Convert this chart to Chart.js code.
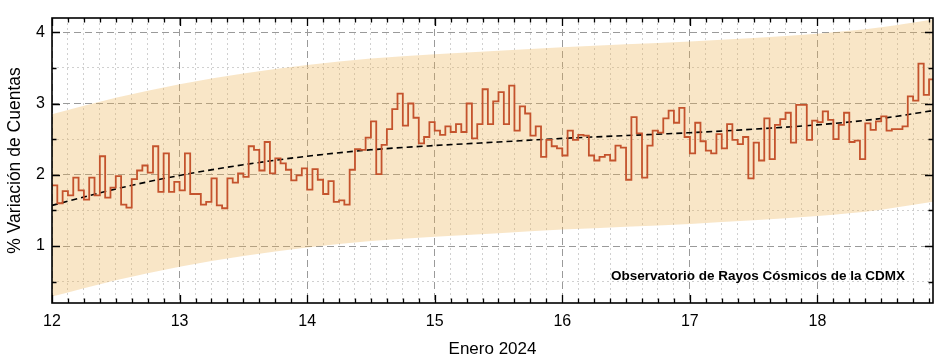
<!DOCTYPE html>
<html>
<head>
<meta charset="utf-8">
<script src="https://cdn.jsdelivr.net/npm/chart.js@4.4.1/dist/chart.umd.min.js"></script>
<style>
html,body{margin:0;padding:0;background:#ffffff;}
#wrap{width:941px;height:362px;position:relative;}
</style>
</head>
<body>
<div id="wrap"><canvas id="c" width="941" height="362"></canvas></div>
<script>
// ---------------- data ----------------
const startDay = 12;            // first hourly value: 12 Jan 2024, 00:00
const hoursPerDay = 24;
// hourly % variation of counts, one value per hour
const countVariation = [
  // day 12
  1.85,1.60,1.77,1.71,1.96,1.78,1.65,1.96,1.71,2.26,1.68,1.82,1.98,1.58,1.54,1.94,2.06,2.13,2.03,2.40,1.76,2.30,1.76,1.90,
  // day 13
  1.78,2.30,1.73,1.73,1.58,1.62,1.95,1.57,1.53,1.95,1.89,2.02,1.97,2.40,2.35,2.06,2.46,2.02,2.23,2.16,2.07,1.92,1.99,2.09,
  // day 14
  1.79,2.08,1.93,1.73,1.91,1.62,1.64,1.58,2.07,2.36,2.35,2.52,2.75,2.01,2.42,2.64,2.92,3.14,2.69,3.00,2.80,2.44,2.53,2.74,
  // day 15
  2.62,2.56,2.68,2.60,2.71,2.60,3.00,2.51,2.71,3.20,2.71,3.03,3.16,2.71,3.25,2.62,2.96,2.86,2.55,2.68,2.25,2.49,2.40,2.37,
  // day 16
  2.27,2.62,2.49,2.56,2.55,2.27,2.20,2.25,2.28,2.20,2.41,2.38,1.93,2.81,2.58,1.96,2.41,2.62,2.59,2.79,2.90,2.73,2.94,2.53,
  // day 17
  2.30,2.73,2.47,2.34,2.30,2.57,2.37,2.71,2.49,2.43,2.53,1.95,2.45,2.20,2.79,2.22,2.70,2.78,2.87,2.45,2.98,2.98,2.49,2.76,
  // day 18
  2.74,2.89,2.77,2.50,2.70,2.87,2.46,2.48,2.22,2.72,2.63,2.75,2.82,2.62,2.64,2.64,2.68,3.10,3.04,3.56,3.12,3.34
];

// trend curve and shaded band, sampled every half day
const bandDays  = [12, 12.5, 13, 13.5, 14, 14.5, 15, 15.5, 16, 16.5, 17, 17.5, 18, 18.5, 18.906];
const trendLine = [1.57,1.80,1.99,2.14,2.26,2.35,2.41,2.46,2.51,2.55,2.59,2.64,2.70,2.79,2.90];
const bandUpper = [2.85,3.08,3.27,3.42,3.54,3.63,3.69,3.74,3.79,3.83,3.87,3.92,3.98,4.07,4.18];
const bandLower = [0.29,0.52,0.71,0.86,0.98,1.07,1.13,1.18,1.23,1.27,1.31,1.36,1.42,1.51,1.62];

// axes
const xMin = 12, xMax = 18.906;
const yMin = 0.2, yMax = 4.2;
const xMajorTicks = [12,13,14,15,16,17,18];
const yMajorTicks = [1,2,3,4];
const xMinorStep = 0.125;   // 3 hours
const yMinorStep = 0.5;

const xTitle = 'Enero 2024';
const yTitle = '% Variación de Cuentas';
const annotation = 'Observatorio de Rayos Cósmicos de la CDMX';

// ---------------- build ----------------
const FONT = '"Liberation Sans", Arial, Helvetica, sans-serif';
const isMajor = (v, list) => list.some(m => Math.abs(m - v) < 1e-6);

const xTickVals = [];
for (let i = 0; startDay + i * xMinorStep <= xMax + 1e-9; i++) xTickVals.push(+(startDay + i * xMinorStep).toFixed(4));
const yTickVals = [];
for (let i = 1; i * yMinorStep <= yMax + 1e-9; i++) { const v = +(i * yMinorStep).toFixed(4); if (v >= yMin) yTickVals.push(v); }

const stepData = countVariation.map((v, i) => ({x: startDay + i / hoursPerDay, y: v}));
stepData.push({x: startDay + countVariation.length / hoursPerDay, y: countVariation[countVariation.length - 1]});

const toPts = arr => bandDays.map((d, i) => ({x: d, y: arr[i]}));

const gridColor = list => ctx => (ctx.tick && isMajor(ctx.tick.value, list)) ? '#9a9a9a' : '#d0d0d0';
const gridDash  = list => ctx => (ctx.tick && isMajor(ctx.tick.value, list)) ? [7, 4] : [2, 3];

const framePlugin = {
  id: 'frame',
  afterDraw(chart) {
    const {ctx, chartArea: a, scales: {x, y}} = chart;
    ctx.save();
    ctx.strokeStyle = '#000';
    ctx.lineWidth = 1.3;
    ctx.beginPath();
    x.ticks.forEach(t => {
      const px = Math.round(x.getPixelForValue(t.value)) + 0.5;
      const len = isMajor(t.value, xMajorTicks) ? 8 : 4.5;
      ctx.moveTo(px, a.bottom); ctx.lineTo(px, a.bottom - len);
      ctx.moveTo(px, a.top); ctx.lineTo(px, a.top + len);
    });
    y.ticks.forEach(t => {
      const py = Math.round(y.getPixelForValue(t.value)) + 0.5;
      const len = isMajor(t.value, yMajorTicks) ? 8 : 4.5;
      ctx.moveTo(a.left, py); ctx.lineTo(a.left + len, py);
      ctx.moveTo(a.right, py); ctx.lineTo(a.right - len, py);
    });
    ctx.stroke();
    ctx.lineWidth = 1.6;
    ctx.strokeRect(a.left, a.top, a.right - a.left, a.bottom - a.top);
    ctx.font = 'bold 13.5px ' + FONT;
    ctx.fillStyle = '#000';
    ctx.textAlign = 'right';
    ctx.textBaseline = 'middle';
    ctx.fillText(annotation, a.right - 28, a.bottom - 26.5);
    ctx.restore();
  }
};

new Chart(document.getElementById('c'), {
  type: 'line',
  data: {
    datasets: [
      { data: stepData, stepped: 'before', borderColor: '#c4532d', borderWidth: 1.8,
        pointRadius: 0, fill: false },
      { data: toPts(trendLine), borderColor: '#000', borderWidth: 1.6, borderDash: [6, 4],
        pointRadius: 0, fill: false, cubicInterpolationMode: 'monotone' },
      { data: toPts(bandUpper), borderColor: 'rgba(0,0,0,0)', borderWidth: 1,
        backgroundColor: 'rgba(236,178,80,0.32)', pointRadius: 0, fill: '+1',
        cubicInterpolationMode: 'monotone' },
      { data: toPts(bandLower), borderColor: 'rgba(0,0,0,0)', borderWidth: 1,
        pointRadius: 0, fill: false, cubicInterpolationMode: 'monotone' }
    ]
  },
  options: {
    responsive: false,
    animation: false,
    events: [],
    layout: { padding: { left: 0, right: 8, top: 18, bottom: 0 } },
    plugins: { legend: { display: false }, tooltip: { enabled: false } },
    scales: {
      x: {
        type: 'linear', min: xMin, max: xMax,
        afterBuildTicks: s => { s.ticks = xTickVals.map(v => ({value: v})); },
        afterFit: s => { s.height = 59; },
        ticks: { autoSkip: false, maxRotation: 0, padding: 9, color: '#000',
                 font: { family: FONT, size: 16 },
                 callback: v => isMajor(v, xMajorTicks) ? String(Math.round(v)) : '' },
        grid: { drawTicks: false, color: gridColor(xMajorTicks), lineWidth: 1 },
        border: { display: false, dash: gridDash(xMajorTicks) },
        title: { display: true, text: xTitle, color: '#000',
                 font: { family: FONT, size: 17 }, padding: { top: 0, bottom: 2 } }
      },
      y: {
        type: 'linear', min: yMin, max: yMax,
        afterBuildTicks: s => { s.ticks = yTickVals.map(v => ({value: v})); },
        afterFit: s => { s.width = 52; },
        ticks: { autoSkip: false, padding: 7, color: '#000',
                 font: { family: FONT, size: 16 },
                 callback: v => isMajor(v, yMajorTicks) ? String(Math.round(v)) : '' },
        grid: { drawTicks: false, color: gridColor(yMajorTicks), lineWidth: 1 },
        border: { display: false, dash: gridDash(yMajorTicks) },
        title: { display: true, text: yTitle, color: '#000',
                 font: { family: FONT, size: 17.5 }, padding: { top: 4.5, bottom: 0 } }
      }
    }
  },
  plugins: [framePlugin]
});
</script>
</body>
</html>
